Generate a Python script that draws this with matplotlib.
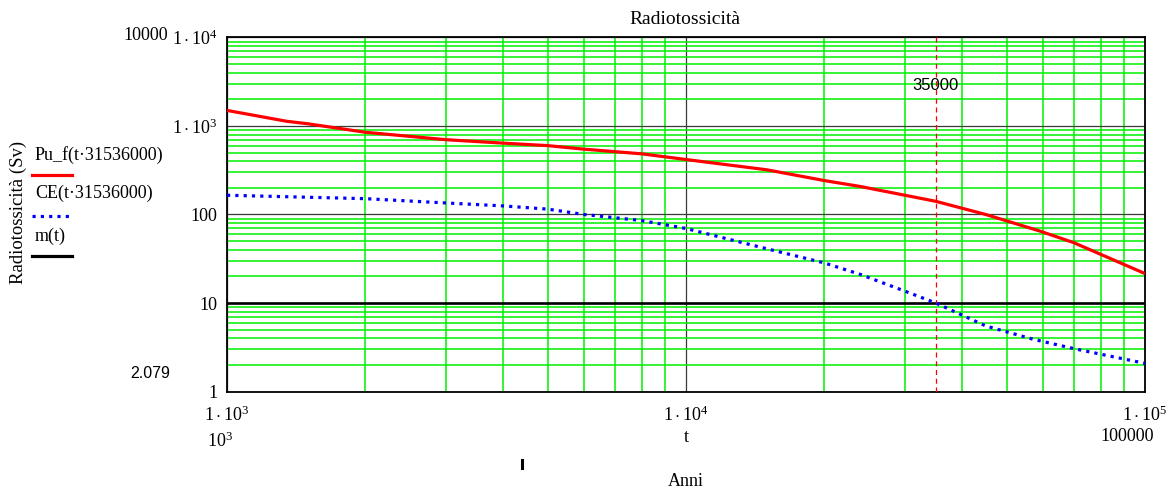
import matplotlib.pyplot as plt
from matplotlib.lines import Line2D

plt.rcParams['font.family'] = ['Liberation Serif', 'DejaVu Serif']
plt.rcParams['mathtext.fontset'] = 'custom'
plt.rcParams['mathtext.rm'] = 'Liberation Serif'
plt.rcParams['mathtext.it'] = 'Liberation Serif:italic'

# tempo in anni e radiotossicita' (Sv)
t_pu = [1000, 1350, 1500, 2000, 3000, 4000, 5000, 6000, 8000, 10000,
        15000, 20000, 24000, 35000, 45000, 59000, 70000, 100000]
pu_f = [1500, 1130, 1060, 850, 700, 640, 600, 547, 485, 418,
        320, 242, 207, 141, 100, 65, 48, 21.5]

t_ce = [1000, 2000, 3000, 4000, 5000, 6000, 8000, 10000, 15000, 20000,
        24000, 30000, 35000, 45000, 57000, 70000, 100000]
ce = [165, 151, 135, 125, 115, 100, 85.5, 69.5, 41, 28.4,
      21, 13.6, 10, 5.5, 3.9, 3.05, 2.08]

m_level = 10
t_soglia = 35000

y_ticks = [1, 10, 100, 1000, 10000]
y_tick_labels = ['1', '10', '100', r'$1\cdot10^{3}$', r'$1\cdot10^{4}$']
x_ticks = [1000, 10000, 100000]
x_tick_labels = [r'$1\cdot10^{3}$', r'$1\cdot10^{4}$', r'$1\cdot10^{5}$']

W, H = 1168, 490
FS = 13


def px(x, y):
    return x / W, 1 - y / H


fig = plt.figure(figsize=(W / 100, H / 100), dpi=100)
ax = fig.add_axes([227 / W, 98.5 / H, 918 / W, 354 / H])

ax.plot(t_pu, pu_f, color='red', lw=2.3, solid_capstyle='butt', zorder=5)
ax.plot(t_ce, ce, color='#0000ff', lw=2.3, ls=(0, (1, 1.6)), zorder=5)
ax.axhline(m_level, color='black', lw=1.9, zorder=4)
ax.axvline(t_soglia, color='red', lw=0.9, ls=(0, (4, 3)), zorder=4)
ax.text(t_soglia, 2900, '35000', ha='center', va='center', fontsize=12,
        family='Liberation Sans', zorder=6)

ax.set_xscale('log')
ax.set_yscale('log')
ax.set_xlim(1000, 100000)
ax.set_ylim(1, 10000)

ax.set_xticks(x_ticks)
ax.set_xticklabels(x_tick_labels, fontsize=FS)
ax.set_yticks(y_ticks)
ax.set_yticklabels(y_tick_labels, fontsize=FS)
ax.tick_params(which='both', length=0)
ax.tick_params(axis='x', pad=10)
ax.tick_params(axis='y', pad=7)
ax.xaxis.set_minor_formatter(plt.NullFormatter())
ax.yaxis.set_minor_formatter(plt.NullFormatter())

ax.grid(which='minor', color='#00f000', lw=1.1)
ax.grid(which='major', color='#3a3a3a', lw=0.9)
ax.set_axisbelow(True)
for s in ax.spines.values():
    s.set_linewidth(1.3)
    s.set_color('black')

# titolo ed etichette degli assi
fig.text(*px(685, 19), 'Radiotossicità', ha='center', va='center', fontsize=14)
fig.text(*px(686, 481), 'Anni', ha='center', va='center', fontsize=FS)
fig.text(*px(686, 437), 't', ha='center', va='center', fontsize=FS)
fig.text(*px(18, 212), 'Radiotossicità (Sv)', ha='center', va='center',
         rotation=90, fontsize=13.5)

# limiti degli assi e marcatore
fig.text(*px(146, 35), '10000', ha='center', va='center', fontsize=FS)
fig.text(*px(220, 441), r'$10^{3}$', ha='center', va='center', fontsize=FS)
fig.text(*px(1127, 436), '100000', ha='center', va='center', fontsize=FS)
fig.text(*px(150, 373), '2.079', ha='center', va='center', fontsize=11.5,
         family='Liberation Sans')

# legenda
legenda = [('Pu_f(t·31536000)', 155, 175, dict(color='red', lw=2.3)),
           ('CE(t·31536000)', 193, 215.5, dict(color='#0000ff', lw=2.3, ls=(0, (1, 1.6)))),
           ('m(t)', 236, 255.5, dict(color='black', lw=2.3))]
for testo, y_txt, y_lin, stile in legenda:
    fig.text(*px(35, y_txt), testo, ha='left', va='center', fontsize=FS)
    x0, y0 = px(32, y_lin)
    x1, _ = px(72, y_lin)
    fig.add_artist(Line2D([x0, x1], [y0, y0], transform=fig.transFigure, **stile))

x0, y0 = px(522, 460)
_, y1 = px(522, 468)
fig.add_artist(Line2D([x0, x0], [y0, y1], transform=fig.transFigure, color='black', lw=2.2))

fig.savefig('out.png', dpi=100)
